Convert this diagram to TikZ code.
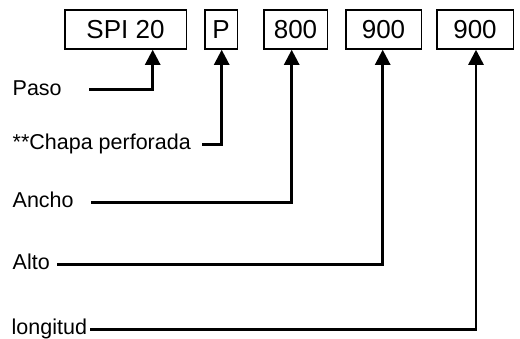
\documentclass[tikz,border=0pt]{standalone}
\usepackage{fontspec}
\setmainfont{Liberation Sans}
\usetikzlibrary{arrows.meta}
\begin{document}
\begin{tikzpicture}[x=1pt,y=-1pt,
  codebox/.style={draw,line width=1.5pt,minimum height=39pt,inner sep=0pt,font=\fontsize{26}{30}\selectfont},
  lbl/.style={anchor=base west,inner sep=0pt,font=\fontsize{21.5}{25}\selectfont},
  conn/.style={line width=2.5pt,-{Triangle[width=15pt,length=15pt]}}]
\useasboundingbox (0,0) rectangle (520,338);
% code boxes
\node[codebox,minimum width=121.5pt] (b1) at (125.5,29.5) {SPI 20};
\node[codebox,minimum width=32.5pt] (b2) at (221,29.5) {P};
\node[codebox,minimum width=63.5pt] (b3) at (295.5,29.5) {800};
\node[codebox,minimum width=75.5pt] (b4) at (383.5,29.5) {900};
\node[codebox,minimum width=76.5pt] (b5) at (475,29.5) {900};
% labels
\node[lbl] (l1) at (12.5,95) {Paso};
\node[lbl] (l2) at (12.5,149) {**Chapa perforada};
\node[lbl] (l3) at (12.5,207) {Ancho};
\node[lbl] (l4) at (12.5,269) {Alto};
\node[lbl] (l5) at (11.5,334) {longitud};
% line starts and corners
\coordinate (s1) at (89,89.3);
\coordinate (k1) at (152.7,89.3);
\coordinate (s2) at (202,144.3);
\coordinate (k2) at (221.7,144.3);
\coordinate (s3) at (91,202.3);
\coordinate (k3) at (291.7,202.3);
\coordinate (s4) at (57,264.3);
\coordinate (k4) at (382.7,264.3);
\coordinate (s5) at (90,329.3);
\coordinate (k5) at (476,329.3);
% connectors
\draw[conn] (s1) -- (k1) -- (k1 |- b1.south);
\draw[conn] (s2) -- (k2) -- (k2 |- b2.south);
\draw[conn] (s3) -- (k3) -- (k3 |- b3.south);
\draw[conn] (s4) -- (k4) -- (k4 |- b4.south);
\draw[conn] (s5) -- (k5) -- (k5 |- b5.south);
\end{tikzpicture}
\end{document}
